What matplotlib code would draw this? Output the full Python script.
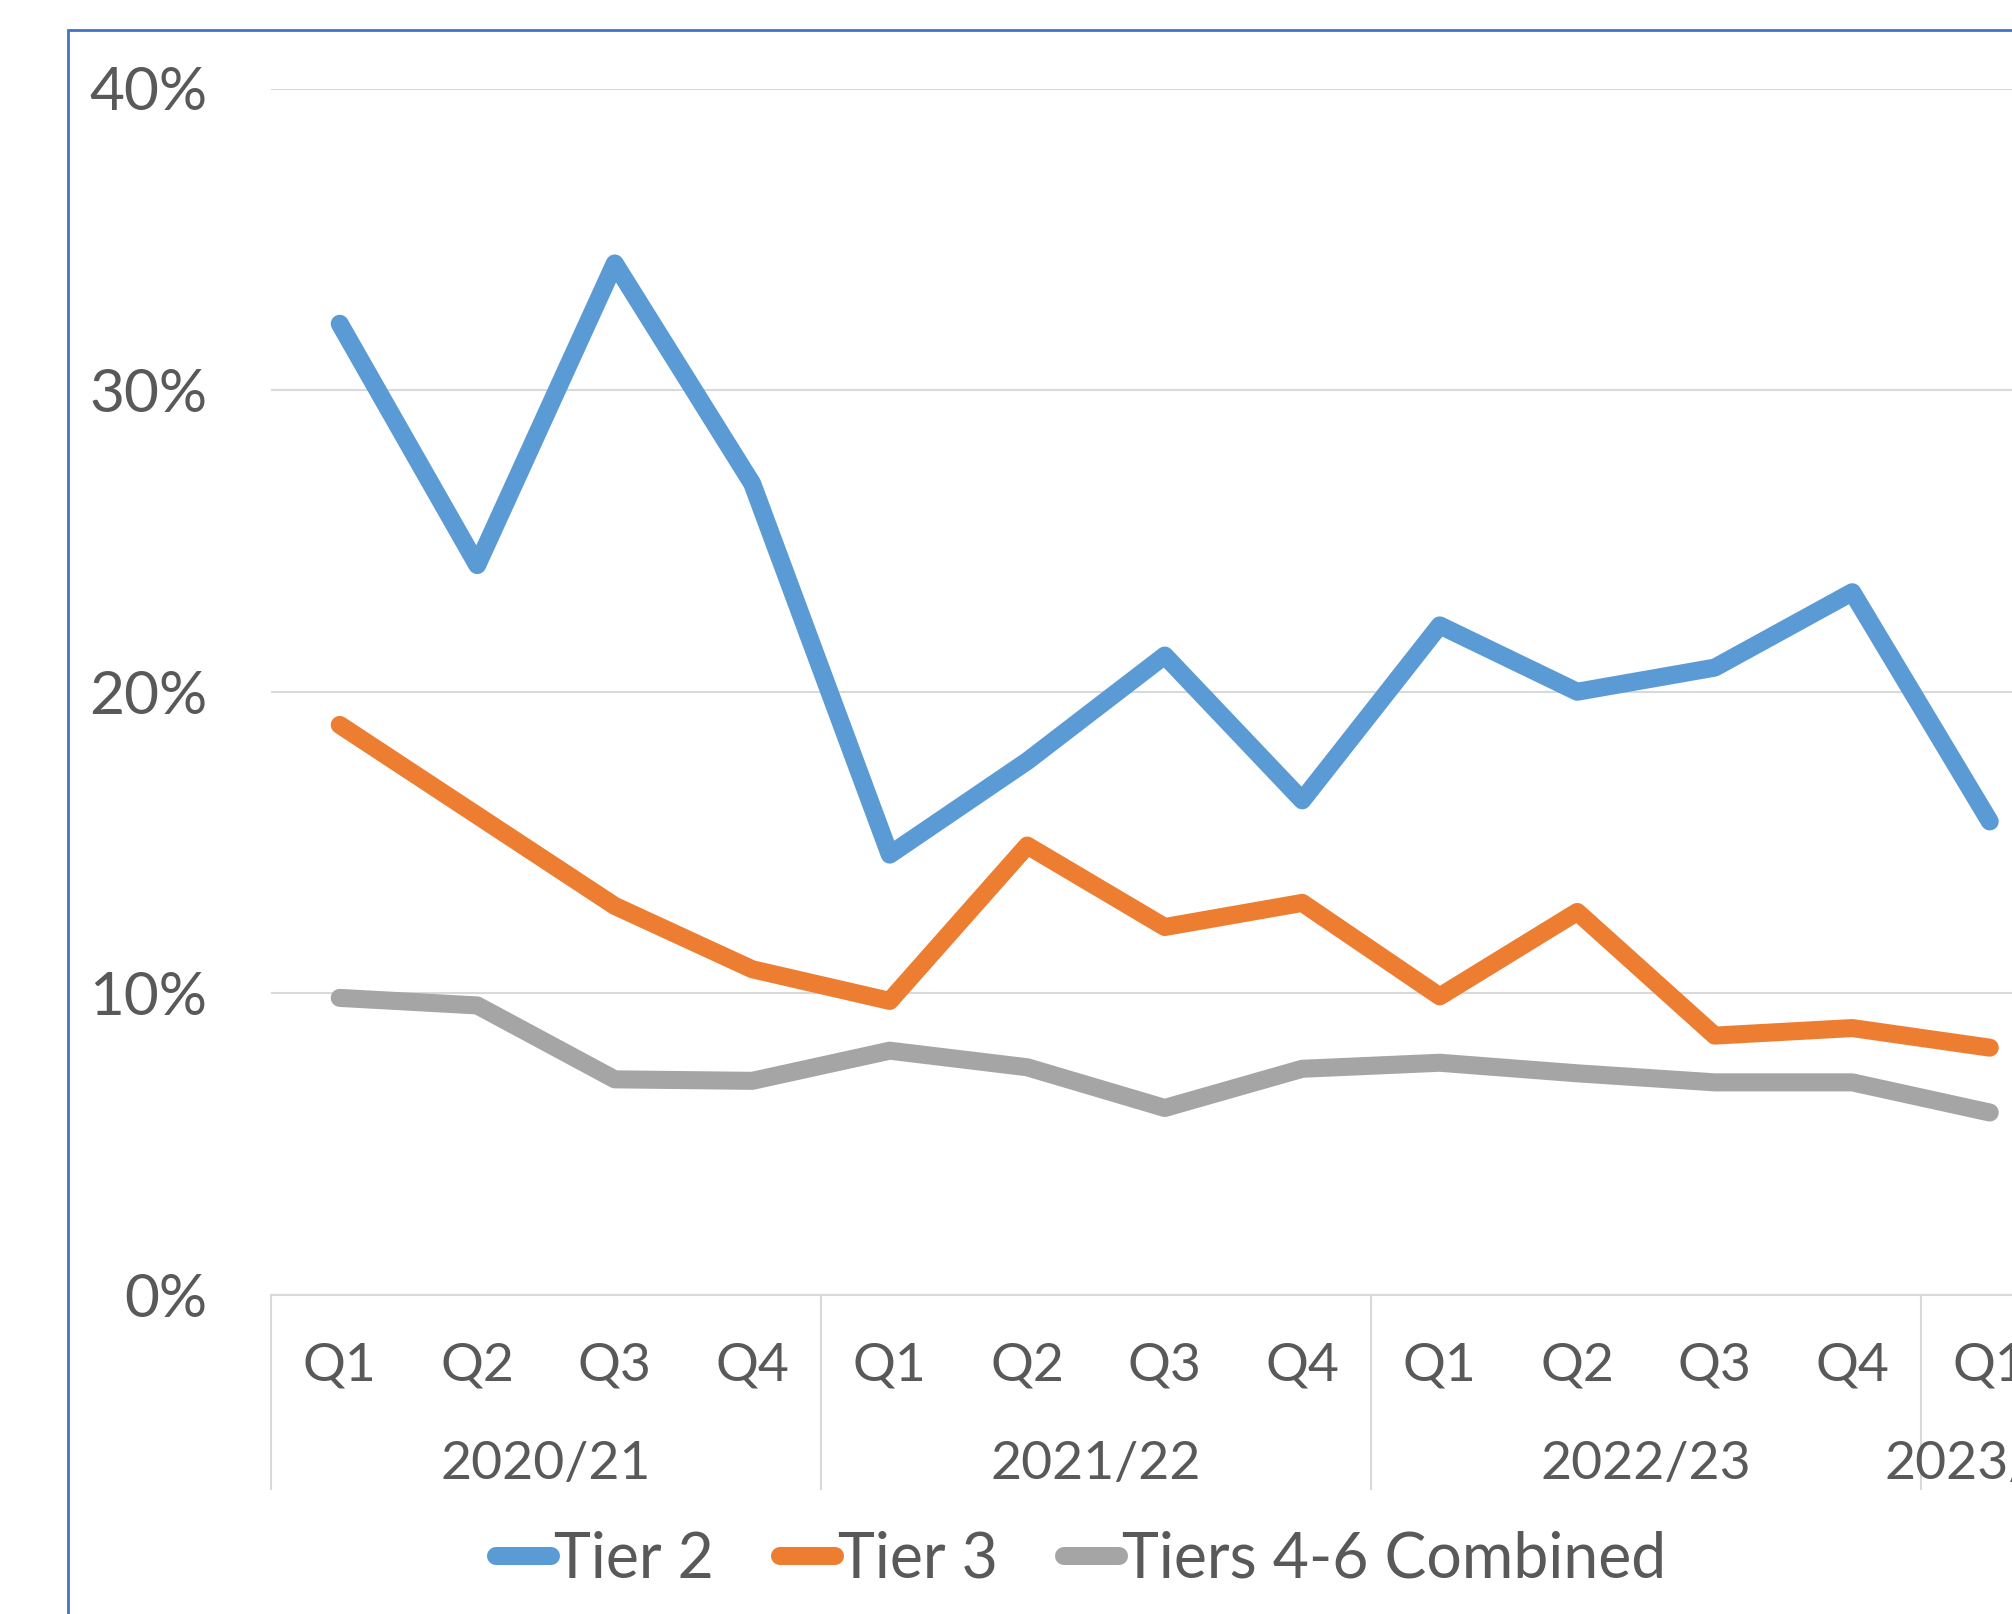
import matplotlib.pyplot as plt
import matplotlib.transforms as mtransforms
from matplotlib.patches import Rectangle

plt.rcParams['font.family'] = ['Lato', 'DejaVu Sans']

# Data
quarters = ['Q1', 'Q2', 'Q3', 'Q4', 'Q1', 'Q2', 'Q3', 'Q4',
            'Q1', 'Q2', 'Q3', 'Q4', 'Q1']
years = ['2020/21', '2021/22', '2022/23', '2023/24']
year_starts = [0, 4, 8, 12]
year_sizes = [4, 4, 4, 1]
tier2 = [32.2, 24.2, 34.2, 26.9, 14.6, 17.7, 21.2, 16.4,
         22.2, 20.0, 20.8, 23.3, 15.7]
tier3 = [18.9, 15.9, 12.9, 10.8, 9.75, 14.9, 12.2, 13.0,
         9.9, 12.7, 8.6, 8.85, 8.2]
tiers46 = [9.85, 9.6, 7.15, 7.1, 8.1, 7.55, 6.2, 7.5,
           7.7, 7.35, 7.05, 7.05, 6.05]

text_col = '#595959'
grid_col = '#D9D9D9'

W, H = 2012, 1614
fig = plt.figure(figsize=(W / 100, H / 100), dpi=100)

# chart border (cropped at right/bottom)
fig.patches.append(Rectangle((68 / W, -0.1), 1.2, 1 - 30 / H + 0.1,
                             transform=fig.transFigure, fill=False,
                             edgecolor='#4472C4', linewidth=2))

left, top, bottom = 271, 88.5, 1295
cat_w = 137.5
ax = fig.add_axes([left / W, 1 - bottom / H, 13 * cat_w / W, (bottom - top) / H])

x = list(range(len(quarters)))
ax.plot(x, tier2, color='#5B9BD5', lw=13, solid_capstyle='round',
        solid_joinstyle='round', label='Tier 2')
ax.plot(x, tier3, color='#ED7D31', lw=13, solid_capstyle='round',
        solid_joinstyle='round', label='Tier 3')
ax.plot(x, tiers46, color='#A5A5A5', lw=13, solid_capstyle='round',
        solid_joinstyle='round', label='Tiers 4-6 Combined')

ax.set_xlim(-0.5, 12.5)
ax.set_ylim(0, 40)
ax.set_yticks([0, 10, 20, 30, 40])
ax.set_yticklabels(['0%', '10%', '20%', '30%', '40%'])
ax.yaxis.grid(True, color=grid_col, lw=1.5)
ax.set_axisbelow(True)
for s in ['top', 'right', 'left']:
    ax.spines[s].set_visible(False)
ax.spines['bottom'].set_color(grid_col)
ax.spines['bottom'].set_linewidth(1.5)
ax.tick_params(axis='y', length=0, pad=46, labelsize=43.5, labelcolor=text_col)
ax.set_xticks([])

# multi-level category labels
trans = mtransforms.blended_transform_factory(ax.transData, ax.transAxes)
ah = bottom - top
for i, q in enumerate(quarters):
    ax.text(i, -(1366 - bottom) / ah, q, transform=trans, ha='center', va='center',
            fontsize=38.5, color=text_col)
for ys, n, yl in zip(year_starts, year_sizes, years):
    ax.text(ys + (n - 1) / 2, -(1465 - bottom) / ah, yl, transform=trans,
            ha='center', va='center', fontsize=38.5, color=text_col)
for sep in [-0.5, 3.5, 7.5, 11.5]:
    ax.plot([sep, sep], [0, -(1489 - bottom) / ah], transform=trans,
            color=grid_col, lw=1.5, clip_on=False)

fig.legend(loc='center', bbox_to_anchor=(1081 / W, 1 - 1560 / H), ncol=3,
           frameon=False, fontsize=45, handlelength=0.88, handletextpad=0.05,
           columnspacing=1.05, labelcolor=text_col, borderpad=0)

fig.savefig('out.png', dpi=100)
